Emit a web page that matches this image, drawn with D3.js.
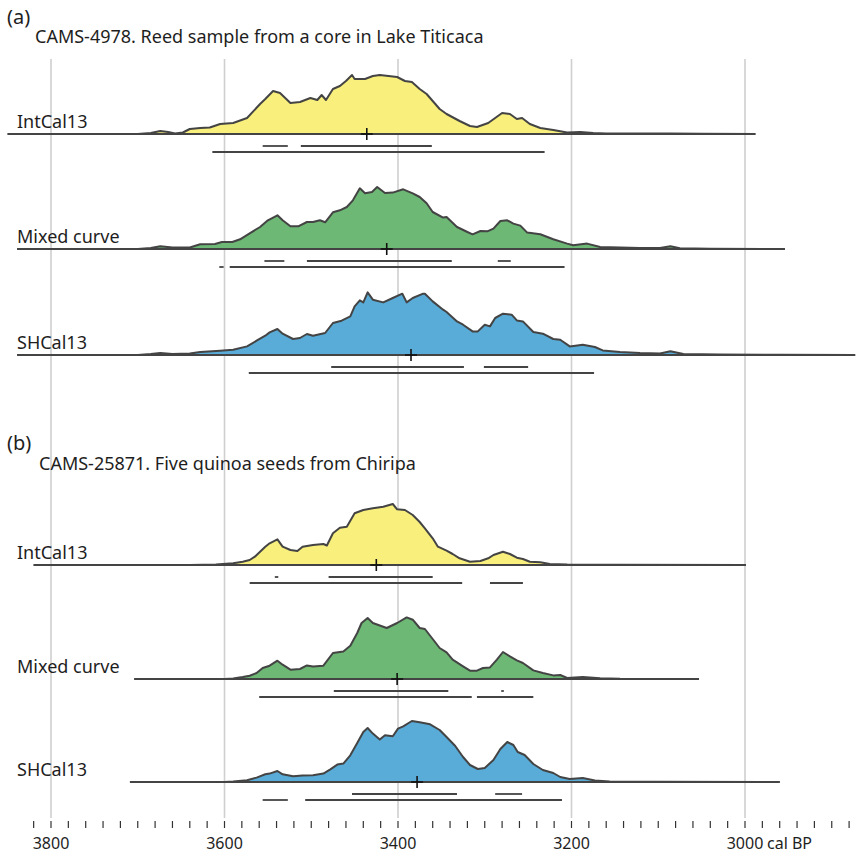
<!DOCTYPE html>
<html>
<head>
<meta charset="utf-8">
<script src="https://cdn.jsdelivr.net/npm/d3@7"></script>
<style>
  body { margin: 0; background: #fff; overflow: hidden; }
  text { font-family: "Noto Sans", sans-serif; fill: #1e1e1e; }
</style>
</head>
<body>
<script>
// probability curves, [cal BP, relative probability]
const intcalA = [[3850,0],[3700,0],[3685,1],[3674,3],[3665,2],[3657,0.5],[3648,1.5],[3640,5],[3628,6],[3617,6.5],[3605,10],[3590,11],[3574,16],[3559,30],[3553,35],[3544,43],[3536,41],[3524,31],[3513,32],[3501,36],[3493,34],[3488,39],[3483,34],[3475,45],[3467,48],[3460,53],[3453,59],[3450,55],[3438,55],[3429,58],[3421,59],[3401,57],[3392,53],[3384,52],[3375,45],[3367,40],[3360,33],[3352,25],[3344,20],[3329,13],[3317,8],[3309,7],[3296,11],[3288,16],[3280,21],[3271,20],[3263,15],[3257,16],[3248,10],[3236,6],[3221,4],[3205,1.5],[3190,2],[3175,1],[3160,0.5],[3086,0.5],[3050,0.2],[2988,0]];
const mixedA = [[3839,0],[3700,0],[3685,1],[3674,2.7],[3660,1.5],[3640,1.5],[3628,4.7],[3611,5],[3603,7],[3591,7],[3582,9.7],[3571,15.7],[3559,22],[3550,28.7],[3539,33.7],[3533,28.7],[3524,22.7],[3515,22.7],[3505,27],[3498,27],[3490,28.7],[3484,26.7],[3475,36.7],[3467,38.7],[3459,42],[3452,48.7],[3444,60.7],[3438,55.7],[3430,57],[3424,62],[3415,56],[3406,56.4],[3394,59.7],[3383,55.7],[3375,52],[3367,45.7],[3360,37],[3348,31.4],[3344,32],[3332,22],[3320,17],[3314,14.7],[3305,18],[3297,17.7],[3290,20.4],[3282,28],[3274,28.7],[3267,25.4],[3259,23.4],[3251,16.4],[3236,14.7],[3221,9.7],[3205,5.4],[3198,3.7],[3182,5.4],[3167,2],[3144,1.5],[3121,1],[3098,1],[3086,2.7],[3075,0.8],[3040,0.3],[2954,0]];
const shcalA = [[3839,0],[3700,0],[3685,1],[3674,2],[3660,1],[3640,1.5],[3628,3],[3605,4.3],[3590,5.3],[3574,8.6],[3563,14.3],[3553,19.3],[3548,22.6],[3539,26],[3533,21.3],[3521,16],[3513,17],[3505,21],[3498,19.3],[3484,22],[3475,32],[3465,34.3],[3455,38.6],[3450,48.6],[3444,54.6],[3440,52.6],[3435,62.6],[3429,55.3],[3417,52.6],[3406,57],[3395,61.3],[3390,52.6],[3383,57],[3371,61.3],[3369,61.3],[3360,53.6],[3348,45.3],[3344,43],[3332,33.6],[3325,30.3],[3314,23.6],[3308,23.6],[3300,30.3],[3294,28.6],[3288,37],[3279,41.3],[3269,40.3],[3263,34.6],[3256,33.6],[3244,23],[3233,21.3],[3221,16],[3213,15.3],[3202,8.6],[3187,10.3],[3173,8],[3164,4.6],[3144,3],[3121,2],[3098,1.5],[3086,3.7],[3071,1],[3029,0.5],[2960,0.2],[2873,0]];
const intcalB = [[3820,0],[3640,0],[3610,0.5],[3590,1.7],[3579,3.3],[3571,5],[3565,8.3],[3559,13.3],[3553,18.3],[3548,21.7],[3539,25.7],[3533,18.3],[3524,15],[3516,14],[3510,18.3],[3498,20],[3486,21],[3482,19.5],[3475,31.7],[3467,37.3],[3459,38.3],[3450,51.7],[3440,55],[3429,56.7],[3417,58.3],[3406,61],[3401,55.7],[3392,55],[3383,50],[3375,43],[3369,36.7],[3360,26.7],[3354,18.3],[3344,14.3],[3337,11],[3329,6.7],[3317,3.3],[3305,4],[3296,6.7],[3290,10],[3279,13.3],[3271,11],[3263,7.3],[3256,6],[3248,3.3],[3236,2.7],[3225,1],[3205,0.5],[3150,0.2],[2999,0]];
const mixedB = [[3704,0],[3600,0],[3590,0.5],[3579,2],[3571,3.3],[3563,6],[3556,11],[3548,13.3],[3539,18.3],[3533,14.3],[3524,9.3],[3513,10],[3505,13.6],[3498,12.6],[3486,13.3],[3475,26],[3463,27.6],[3455,33.3],[3447,46],[3442,56],[3435,61],[3429,56],[3413,51],[3401,56],[3390,61.6],[3383,59.3],[3375,51],[3369,50],[3360,40],[3352,31],[3344,26.6],[3337,19.3],[3325,12.6],[3317,8.3],[3309,8.3],[3302,11],[3294,11.6],[3286,19.3],[3279,27],[3271,22.6],[3263,18.6],[3256,16],[3244,8.6],[3233,6],[3221,3.6],[3213,4],[3205,1],[3187,2],[3167,0.7],[3144,0.2],[3053,0]];
const shcalB = [[3709,0],[3600,0],[3590,0.5],[3574,1.7],[3563,4.4],[3553,7.7],[3548,8.4],[3539,11],[3533,7.7],[3521,5.7],[3510,6.4],[3498,6.7],[3486,8.4],[3478,12.7],[3470,17.4],[3463,18.4],[3455,26.7],[3447,39],[3440,50],[3435,54],[3429,48.4],[3421,42.4],[3415,46.7],[3406,45.7],[3400,53.4],[3394,55.7],[3384,61],[3375,59.7],[3363,57.7],[3352,52],[3344,45],[3334,36],[3325,25],[3317,17],[3308,13],[3300,14],[3290,22],[3282,33],[3274,40],[3267,37],[3262,30],[3254,27],[3244,18],[3233,12],[3221,9],[3213,5],[3202,3],[3187,4],[3173,1.5],[3156,0.5],[3100,0.2],[2960,0]];

// 68.2% and 95.4% ranges, medians
const sig1 = [
  [[3556,3527],[3512,3361]],
  [[3554,3531],[3505,3338],[3285,3270]],
  [[3477,3324],[3301,3250]],
  [[3542,3538],[3480,3360]],
  [[3474,3342],[3281,3278]],
  [[3453,3332],[3288,3257]]
];
const sig2 = [
  [[3614,3231]],
  [[3606,3601],[3594,3208]],
  [[3572,3174]],
  [[3571,3326],[3294,3256]],
  [[3560,3315],[3309,3244]],
  [[3556,3527],[3507,3211]]
];
const medians = [3436, 3413, 3385, 3425, 3401, 3378];
const curveNames = ["IntCal13", "Mixed curve", "SHCal13", "IntCal13", "Mixed curve", "SHCal13"];
const panelLabels = ["(a)", "(b)"];
const panelTitles = ["CAMS-4978. Reed sample from a core in Lake Titicaca", "CAMS-25871. Five quinoa seeds from Chiripa"];
const gridYears = [3800, 3600, 3400, 3200, 3000];
const tickLabels = [3800, 3600, 3400, 3200, 3000];

const curves = [intcalA, mixedA, shcalA, intcalB, mixedB, shcalB];
const fills = ["#f8ef7c", "#6cb874", "#59acd8", "#f8ef7c", "#6cb874", "#59acd8"];
const baseY = [134, 249, 355, 565, 679, 782];

const W = 863, H = 856;
const svg = d3.select("body").append("svg").attr("width", W).attr("height", H)
  .style("display", "block");

const x = d3.scaleLinear().domain([3800, 3000]).range([51, 745]);
const h = d3.scaleLinear().domain([0, 62]).range([0, 62]);

// vertical grid
svg.selectAll(".grid").data(gridYears).enter().append("line")
  .attr("x1", d => x(d)).attr("x2", d => x(d))
  .attr("y1", 59).attr("y2", 818)
  .attr("stroke", "#cfcfcf").attr("stroke-width", 1.6);

// panel labels and titles
svg.selectAll(".plab").data(panelLabels).enter().append("text")
  .attr("x", 7).attr("y", (d, i) => i ? 450 : 24)
  .attr("font-size", 20).text(d => d);
svg.selectAll(".ptitle").data(panelTitles).enter().append("text")
  .attr("x", (d, i) => i ? 39 : 35).attr("y", (d, i) => i ? 470 : 43)
  .attr("font-size", 18).text(d => d);

curves.forEach((c, i) => {
  const y0 = baseY[i];
  const g = svg.append("g");
  const area = d3.area().x(d => x(d[0])).y0(y0).y1(d => y0 - h(d[1]));
  const line = d3.line().x(d => x(d[0])).y(d => y0 - h(d[1]));
  g.append("path").datum(c).attr("d", area).attr("fill", fills[i]);
  g.append("path").datum(c).attr("d", line)
    .attr("fill", "none").attr("stroke", "#444").attr("stroke-width", 2).attr("stroke-linejoin", "round");
  // baseline
  g.append("line")
    .attr("x1", x(c[0][0])).attr("x2", x(c[c.length - 1][0]))
    .attr("y1", y0).attr("y2", y0)
    .attr("stroke", "#444").attr("stroke-width", 2);
  // name
  g.append("text").attr("x", 17).attr("y", y0 - 6).attr("font-size", 18).text(curveNames[i]);
  // ranges
  g.selectAll(".s1").data(sig1[i]).enter().append("line")
    .attr("x1", d => x(d[0])).attr("x2", d => x(d[1]))
    .attr("y1", y0 + 12).attr("y2", y0 + 12)
    .attr("stroke", "#444").attr("stroke-width", 1.8);
  g.selectAll(".s2").data(sig2[i]).enter().append("line")
    .attr("x1", d => x(d[0])).attr("x2", d => x(d[1]))
    .attr("y1", y0 + 18).attr("y2", y0 + 18)
    .attr("stroke", "#444").attr("stroke-width", 1.8);
  // median cross
  const mx = x(medians[i]);
  g.append("line").attr("x1", mx - 6).attr("x2", mx + 6).attr("y1", y0).attr("y2", y0)
    .attr("stroke", "#111").attr("stroke-width", 1.6);
  g.append("line").attr("x1", mx).attr("x2", mx).attr("y1", y0 - 6).attr("y2", y0 + 6)
    .attr("stroke", "#111").attr("stroke-width", 1.6);
});

// axis
const ticks = d3.range(3820, 2879, -20);
svg.selectAll(".tick").data(ticks).enter().append("line")
  .attr("x1", d => x(d)).attr("x2", d => x(d))
  .attr("y1", 821).attr("y2", 828)
  .attr("stroke", "#333").attr("stroke-width", 1.2);
svg.selectAll(".tlab").data(tickLabels).enter().append("text")
  .attr("x", d => x(d)).attr("y", 849)
  .attr("text-anchor", "middle").attr("font-size", 16).text(d => d);
svg.append("text").attr("x", x(3000) + 22).attr("y", 849)
  .attr("font-size", 16).text("cal BP");
</script>
</body>
</html>
